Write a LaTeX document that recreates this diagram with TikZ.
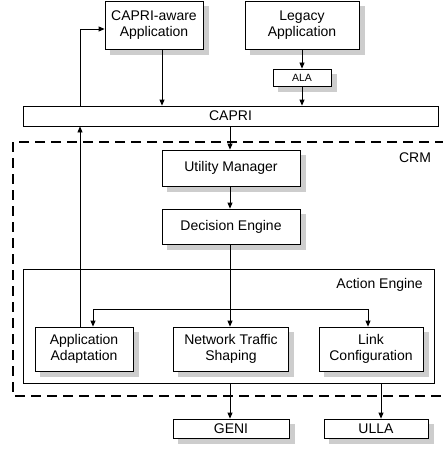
\documentclass[tikz,border=0pt]{standalone}
\usepackage{fontspec}
\setmainfont{Liberation Sans}
\usetikzlibrary{arrows.meta}
\definecolor{shadowgray}{RGB}{205,205,205}
\tikzset{
  box/.style={draw=black, line width=0.8pt, fill=white, inner sep=0pt, align=center,
    font=\fontsize{14}{16.5}\selectfont},
  shadowline/.style={draw=shadowgray, line width=5pt, line join=miter, line cap=butt},
  conn/.style={line width=0.8pt, -{Triangle[length=6pt,width=5pt]}},
  crmline/.style={line width=2.6pt, dash pattern=on 10pt off 6pt},
  lbl/.style={font=\fontsize{14}{16.5}\selectfont, inner sep=0pt}
}
\begin{document}
\begin{tikzpicture}[x=1pt,y=-1pt]
\useasboundingbox (0,0) rectangle (442,452);
% CRM dashed region (right edge beyond picture)
\coordinate (crmTR) at (445,142);
\coordinate (crmTL) at (13,142);
\coordinate (crmBL) at (13,396);
\coordinate (crmBR) at (445,396);
\draw[crmline] (crmTR) -- (crmTL) -- (crmBL) -- (crmBR);
\node[lbl] (crm) at (415,158) {CRM};

% top
\node[box, minimum width=98pt, minimum height=48pt] (capa) at (154,25) {CAPRI-aware\\Application};
\node[box, minimum width=114pt, minimum height=48pt] (leg) at (302,25) {Legacy\\Application};
\node[box, minimum width=58pt, minimum height=17pt, font=\fontsize{10.5}{12}\selectfont] (ala) at (302,77.5) {ALA};
\node[box, minimum width=415pt, minimum height=20pt] (capri) at (230.5,116) {CAPRI};

% CRM content
\node[box, minimum width=138pt, minimum height=36pt] (um) at (231,168) {Utility Manager};
\node[box, minimum width=138pt, minimum height=35pt] (de) at (231,226.5) {Decision Engine};
\node[box, minimum width=411pt, minimum height=114pt, fill=none] (ae) at (228.5,326) {};
\node[lbl, anchor=east] (aelbl) at (423,285) {Action Engine};
\node[box, minimum width=98pt, minimum height=44pt] (aa) at (84,349) {Application\\Adaptation};
\node[box, minimum width=115pt, minimum height=44pt] (nts) at (231,349) {Network Traffic\\Shaping};
\node[box, minimum width=104pt, minimum height=44pt] (lc) at (371,349) {Link\\Configuration};

% bottom
\node[box, minimum width=116pt, minimum height=19pt] (geni) at (231,428.5) {GENI};
\node[box, minimum width=104pt, minimum height=19pt] (ulla) at (376,428.5) {ULLA};

% shadows as strips below and right of each box
\foreach \n in {capa,leg,ala,um,de,aa,nts,lc,geni,ulla}{
  \draw[shadowline] ([xshift=5pt,yshift=-2.9pt]\n.south west) -- ([xshift=2.9pt,yshift=-2.9pt]\n.south east) -- ([xshift=2.9pt,yshift=-5pt]\n.north east);
}

% connectors
\draw[conn] (capa.south -| 162,0) -- (capri.north -| 162,0);
\draw[conn] (leg.south) -- (ala.north);
\draw[conn] (ala.south) -- (capri.north -| ala.south);
\draw[conn] (capri.north -| 80,0) |- (capa.west |- 0,29);
\draw[conn] (aa.north -| 80,0) -- (capri.south -| 80,0);
\draw[conn] (capri.south -| 230,0) -- (um.north -| 230,0);
\draw[conn] (um.south -| 230,0) -- (de.north -| 230,0);
\coordinate (br) at (230,309);
\draw[conn] (de.south -| 230,0) -- (nts.north -| 230,0);
\draw[conn] (br) -- (93,309) -- (aa.north -| 93,0);
\draw[conn] (br) -- (368,309) -- (lc.north -| 368,0);
\draw[conn] (ae.south -| 230,0) -- (geni.north -| 230,0);
\draw[conn] (ae.south -| 381,0) -- (ulla.north -| 381,0);
\end{tikzpicture}
\end{document}
